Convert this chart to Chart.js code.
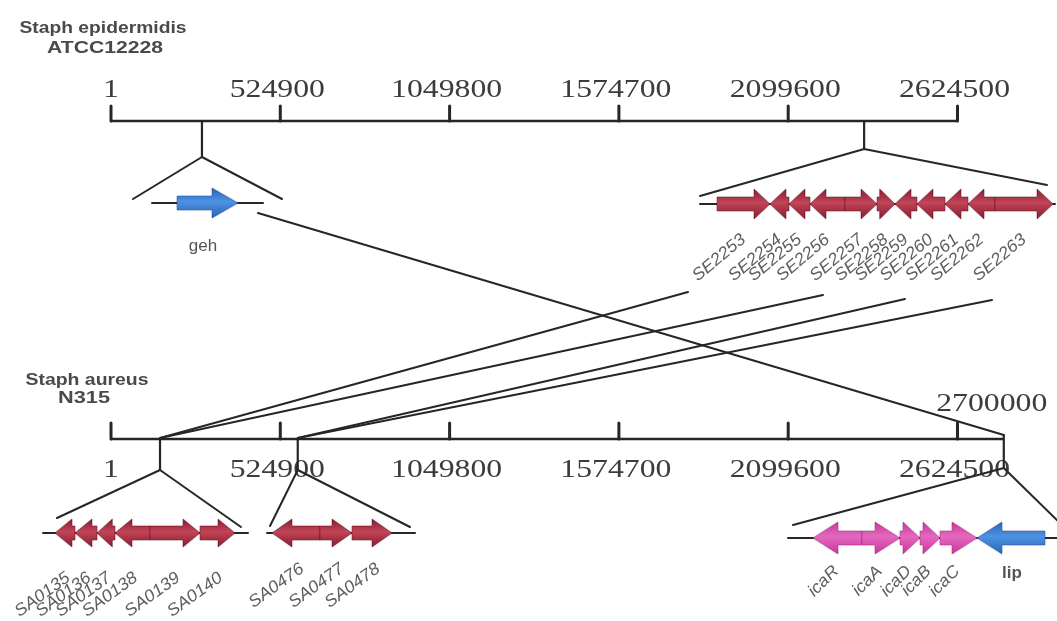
<!DOCTYPE html>
<html><head><meta charset="utf-8">
<script src="https://cdn.jsdelivr.net/npm/chart.js@4/dist/chart.umd.min.js"></script>
<style>html,body{margin:0;padding:0;background:#fff;}#wrap{width:1057px;height:621px;}</style>
</head><body><div id="wrap"><canvas id="c" width="1057" height="621"></canvas></div>
<script>
// ================= DATA =================
const TICK_VALUES = [1, 524900, 1049800, 1574700, 2099600, 2624500];
const TICK_LABELS = ["1", "524900", "1049800", "1574700", "2099600", "2624500"];
const EPI_TITLE = ["Staph epidermidis", "ATCC12228"];
const AUR_TITLE = ["Staph aureus", "N315"];
const EPI_END = 2624500;          // end of drawn S. epidermidis axis
const AUR_END = 2768000;          // end of drawn S. aureus axis
const AUR_END_LABEL = "2700000";

// loci on the genomes (bp)
const LOCUS_GEH = 282000;
const LOCUS_SE = 2335000;
const LOCUS_SA135 = 152000;
const LOCUS_SA476 = 579000;
const LOCUS_ICA = 2768000;

// gene clusters, local coordinates in kb
const GEH_NAMES = ["geh"];
const GEH_START = [0];
const GEH_END = [6.1];
const GEH_STRAND = [1];
const GEH_FLANK = [-2.5, 8.6];

const SE_NAMES = ["SE2253","SE2254","SE2255","SE2256","SE2257","SE2258","SE2259","SE2260","SE2261","SE2262","SE2263"];
const SE_START = [0, 5.3, 7.2, 9.3, 12.8, 16.0, 17.8, 20.0, 22.8, 25.1, 27.8];
const SE_END   = [5.3, 7.2, 9.3, 12.8, 16.0, 17.8, 20.0, 22.8, 25.1, 27.8, 33.6];
const SE_STRAND = [1, -1, -1, -1, 1, 1, -1, -1, -1, -1, 1];
const SE_FLANK = [-1.7, 33.8];

const SA1_NAMES = ["SA0135","SA0136","SA0137","SA0138","SA0139","SA0140"];
const SA1_START = [0, 2.0, 4.2, 6.0, 9.5, 14.5];
const SA1_END   = [2.0, 4.2, 6.0, 9.5, 14.5, 18.0];
const SA1_STRAND = [-1, -1, -1, -1, 1, 1];
const SA1_FLANK = [-1.2, 19.3];

const SA4_NAMES = ["SA0476","SA0477","SA0478"];
const SA4_START = [0, 4.8, 8.0];
const SA4_END   = [4.8, 8.0, 12.0];
const SA4_STRAND = [-1, 1, 1];
const SA4_FLANK = [-0.5, 14.3];

const ICA_NAMES = ["icaR","icaA","icaD","icaB","icaC","lip"];
const ICA_START = [0, 4.9, 8.7, 10.7, 12.7, 16.4];
const ICA_END   = [4.9, 8.7, 10.7, 12.7, 16.4, 23.2];
const ICA_STRAND = [-1, 1, 1, 1, 1, -1];
const ICA_FLANK = [-2.5, 24.6];

// ================= LAYOUT / STYLE =================
const W = 1057, H = 621;
const AX_LEFT_PX = 111, PX_PER_TICK = 169.3;
const BP_PER_PX = 524900 / PX_PER_TICK;
const TRACK_Y = { epi: 121, aur: 439 };
const PX_PER_KB = 10;
const COLORS = {
  red:  { a: '#8a1c30', b: '#c24457', s: 'rgba(80,10,25,0.4)' },
  pink: { a: '#cc359d', b: '#e468bf', s: 'rgba(140,20,100,0.35)' },
  blue: { a: '#2865bb', b: '#4d92e2', s: 'rgba(20,50,130,0.35)' }
};
const INSETS = [
  { track:'epi', locus:LOCUS_GEH, names:GEH_NAMES, start:GEH_START, end:GEH_END, strand:GEH_STRAND, flank:GEH_FLANK,
    origin:177, rowY:203, apexY:157, vL:[133,199], vR:[282,199], dims:[7,15,26], color:()=> 'blue',
    label:{ upright:true, x:203, y:251 } },
  { track:'epi', locus:LOCUS_SE, names:SE_NAMES, start:SE_START, end:SE_END, strand:SE_STRAND, flank:SE_FLANK,
    origin:717, rowY:204, apexY:149, vL:[700,196], vR:[1047,185], dims:[7,15,16], color:()=> 'red',
    label:{ angle:40, dx:3, dy:37 } },
  { track:'aur', locus:LOCUS_SA135, names:SA1_NAMES, start:SA1_START, end:SA1_END, strand:SA1_STRAND, flank:SA1_FLANK,
    origin:55, rowY:533, apexY:470, vL:[57,518], vR:[241,527], dims:[7,14,17], color:()=> 'red',
    label:{ angle:36, dx:6, dy:47 } },
  { track:'aur', locus:LOCUS_SA476, names:SA4_NAMES, start:SA4_START, end:SA4_END, strand:SA4_STRAND, flank:SA4_FLANK,
    origin:272, rowY:533, apexY:470, vL:[270,526], vR:[410,527], dims:[7,14,20], color:()=> 'red',
    label:{ angle:36, dx:9, dy:38 } },
  { track:'aur', locus:LOCUS_ICA, names:ICA_NAMES, start:ICA_START, end:ICA_END, strand:ICA_STRAND, flank:ICA_FLANK,
    origin:813, rowY:538, apexY:468, vL:[793,525], vR:[1064,527], dims:[7,16,25], color:(n)=> n==='lip' ? 'blue' : 'pink',
    label:{ angle:45, dx:2, dy:34, upright:['lip'], ux:1012, uy:578 } }
];
const LINKS = [
  { from:[258,213], locus:LOCUS_ICA, y:435 },
  { from:[688,292], locus:LOCUS_SA135, y:438 },
  { from:[823,295], locus:LOCUS_SA135, y:438 },
  { from:[905,299], locus:LOCUS_SA476, y:438 },
  { from:[992,300], locus:LOCUS_SA476, y:438 }
];
const INK = '#262626';

function stretchText(ctx, txt, x, y, font, color, align, sx, angle){
  ctx.save();
  ctx.font = font; ctx.fillStyle = color; ctx.textAlign = align; ctx.textBaseline = 'alphabetic';
  ctx.translate(x, y);
  if (angle) ctx.rotate(-angle * Math.PI / 180);
  ctx.scale(sx, 1);
  ctx.fillText(txt, 0, 0);
  ctx.restore();
}
function fitText(ctx, txt, cx, y, font, color, width){
  ctx.save(); ctx.font = font;
  const w = ctx.measureText(txt).width; ctx.restore();
  stretchText(ctx, txt, cx, y, font, color, 'center', width / w, 0);
}

const drawPlugin = {
  id: 'genomeDraw',
  afterDatasetsDraw(chart){
    const ctx = chart.ctx;
    const X = v => chart.scales.x.getPixelForValue(v);
    const XG = v => chart.scales.xg.getPixelForValue(v);
    const Y = v => chart.scales.y.getPixelForValue(v);
    const line = (pts, w) => {
      ctx.save(); ctx.strokeStyle = INK; ctx.lineWidth = w || 2; ctx.lineCap = 'round'; ctx.lineJoin='round';
      ctx.beginPath(); pts.forEach((p,i)=> i ? ctx.lineTo(p[0],p[1]) : ctx.moveTo(p[0],p[1])); ctx.stroke(); ctx.restore();
    };
    // ---- axis ticks and labels ----
    const serif = "25px 'Liberation Serif', 'DejaVu Serif', serif";
    TICK_VALUES.forEach((v,i)=>{
      const px = XG(v);
      line([[px, Y(TRACK_Y.epi)], [px, Y(TRACK_Y.epi - 15)]], 3);
      line([[px, Y(TRACK_Y.aur)], [px, Y(TRACK_Y.aur - 16)]], 3);
      stretchText(ctx, TICK_LABELS[i], px - (i===0?0:3), Y(97), serif, '#3c3c3c', 'center', 1.27, 0);
      stretchText(ctx, TICK_LABELS[i], px - (i===0?0:3), Y(477), serif, '#3c3c3c', 'center', 1.27, 0);
    });
    stretchText(ctx, AUR_END_LABEL, XG(AUR_END) - 12, Y(411), serif, '#3c3c3c', 'center', 1.27, 0);
    // ---- titles ----
    const tf = "bold 17px 'Liberation Sans', Arial, sans-serif";
    fitText(ctx, EPI_TITLE[0], 103, Y(33), tf, '#4a4a4a', 167);
    fitText(ctx, EPI_TITLE[1], 105, Y(53), tf, '#4a4a4a', 116);
    fitText(ctx, AUR_TITLE[0], 87, Y(385), tf, '#4a4a4a', 123);
    fitText(ctx, AUR_TITLE[1], 84, Y(403), tf, '#4a4a4a', 52);
    // ---- links ----
    LINKS.forEach(l => line([[X(l.from[0]), Y(l.from[1])], [XG(l.locus), Y(l.y)]], 2));
    // ---- insets ----
    INSETS.forEach(ins => {
      const ay = Y(TRACK_Y[ins.track]);
      const mx = XG(ins.locus);
      const top = ins.locus === LOCUS_ICA ? Y(435) : ay;
      line([[mx, top], [mx, Y(ins.apexY)]], 2.2);
      line([[X(ins.vL[0]), Y(ins.vL[1])], [mx, Y(ins.apexY)], [X(ins.vR[0]), Y(ins.vR[1])]], 2);
      const kx = kb => X(ins.origin + kb * PX_PER_KB);
      const ry = Y(ins.rowY);
      line([[kx(ins.flank[0]), ry], [kx(ins.flank[1]), ry]], 2);
      const [bh, hh, hlMax] = ins.dims;
      ins.names.forEach((n, i) => {
        const x0 = kx(ins.start[i]), x1 = kx(ins.end[i]);
        const len = x1 - x0, hl = Math.min(hlMax, len * 0.85);
        const c = COLORS[ins.color(n)];
        const s = ins.strand[i];
        let pts;
        if (s > 0) pts = [[x0,ry-bh],[x1-hl,ry-bh],[x1-hl,ry-hh],[x1,ry],[x1-hl,ry+hh],[x1-hl,ry+bh],[x0,ry+bh]];
        else pts = [[x1,ry-bh],[x0+hl,ry-bh],[x0+hl,ry-hh],[x0,ry],[x0+hl,ry+hh],[x0+hl,ry+bh],[x1,ry+bh]];
        const g = ctx.createLinearGradient(0, ry - hh, 0, ry + hh);
        g.addColorStop(0, c.a); g.addColorStop(0.45, c.b); g.addColorStop(1, c.a);
        ctx.save();
        ctx.beginPath(); pts.forEach((p,k)=> k ? ctx.lineTo(p[0],p[1]) : ctx.moveTo(p[0],p[1])); ctx.closePath();
        ctx.fillStyle = g; ctx.shadowColor = 'rgba(0,0,0,0.25)'; ctx.shadowBlur = 2; ctx.fill();
        ctx.shadowBlur = 0; ctx.strokeStyle = c.s; ctx.lineWidth = 1; ctx.stroke();
        ctx.restore();
      });
      // labels
      const L = ins.label;
      ins.names.forEach((n, i) => {
        if (L.upright === true) {
          stretchText(ctx, n, X(L.x), Y(L.y), "17px 'Liberation Sans', Arial, sans-serif", '#555', 'center', 1, 0);
          return;
        }
        if (Array.isArray(L.upright) && L.upright.includes(n)) {
          stretchText(ctx, n, X(L.ux), Y(L.uy), "bold 17px 'Liberation Sans', Arial, sans-serif", '#555', 'center', 1, 0);
          return;
        }
        const cx = (kx(ins.start[i]) + kx(ins.end[i])) / 2 + L.dx;
        stretchText(ctx, n, cx, ry + L.dy, "italic 17px 'Liberation Sans', Arial, sans-serif", '#5e5e5e', 'right', 1.05, L.angle);
      });
    });
  }
};

const ctx = document.getElementById('c').getContext('2d');
const chart = new Chart(ctx, {
  type: 'scatter',
  data: { datasets: [
    { label: 'S. epidermidis ATCC12228', xAxisID: 'xg', yAxisID: 'y',
      data: [{x: 1, y: TRACK_Y.epi}, {x: EPI_END, y: TRACK_Y.epi}],
      showLine: true, borderColor: INK, borderWidth: 2.5, pointRadius: 0, clip: false },
    { label: 'S. aureus N315', xAxisID: 'xg', yAxisID: 'y',
      data: [{x: 1, y: TRACK_Y.aur}, {x: AUR_END, y: TRACK_Y.aur}],
      showLine: true, borderColor: INK, borderWidth: 2.5, pointRadius: 0, clip: false }
  ]},
  options: {
    responsive: false, animation: false, devicePixelRatio: 1,
    layout: { padding: 0 },
    plugins: { legend: { display: false }, tooltip: { enabled: false }, title: { display: false } },
    scales: {
      x:  { type: 'linear', display: false, min: 0, max: W },
      xg: { type: 'linear', display: false, min: 1 - AX_LEFT_PX * BP_PER_PX, max: 1 + (W - AX_LEFT_PX) * BP_PER_PX },
      y:  { type: 'linear', display: false, min: 0, max: H, reverse: true }
    }
  },
  plugins: [drawPlugin]
});
</script></body></html>
